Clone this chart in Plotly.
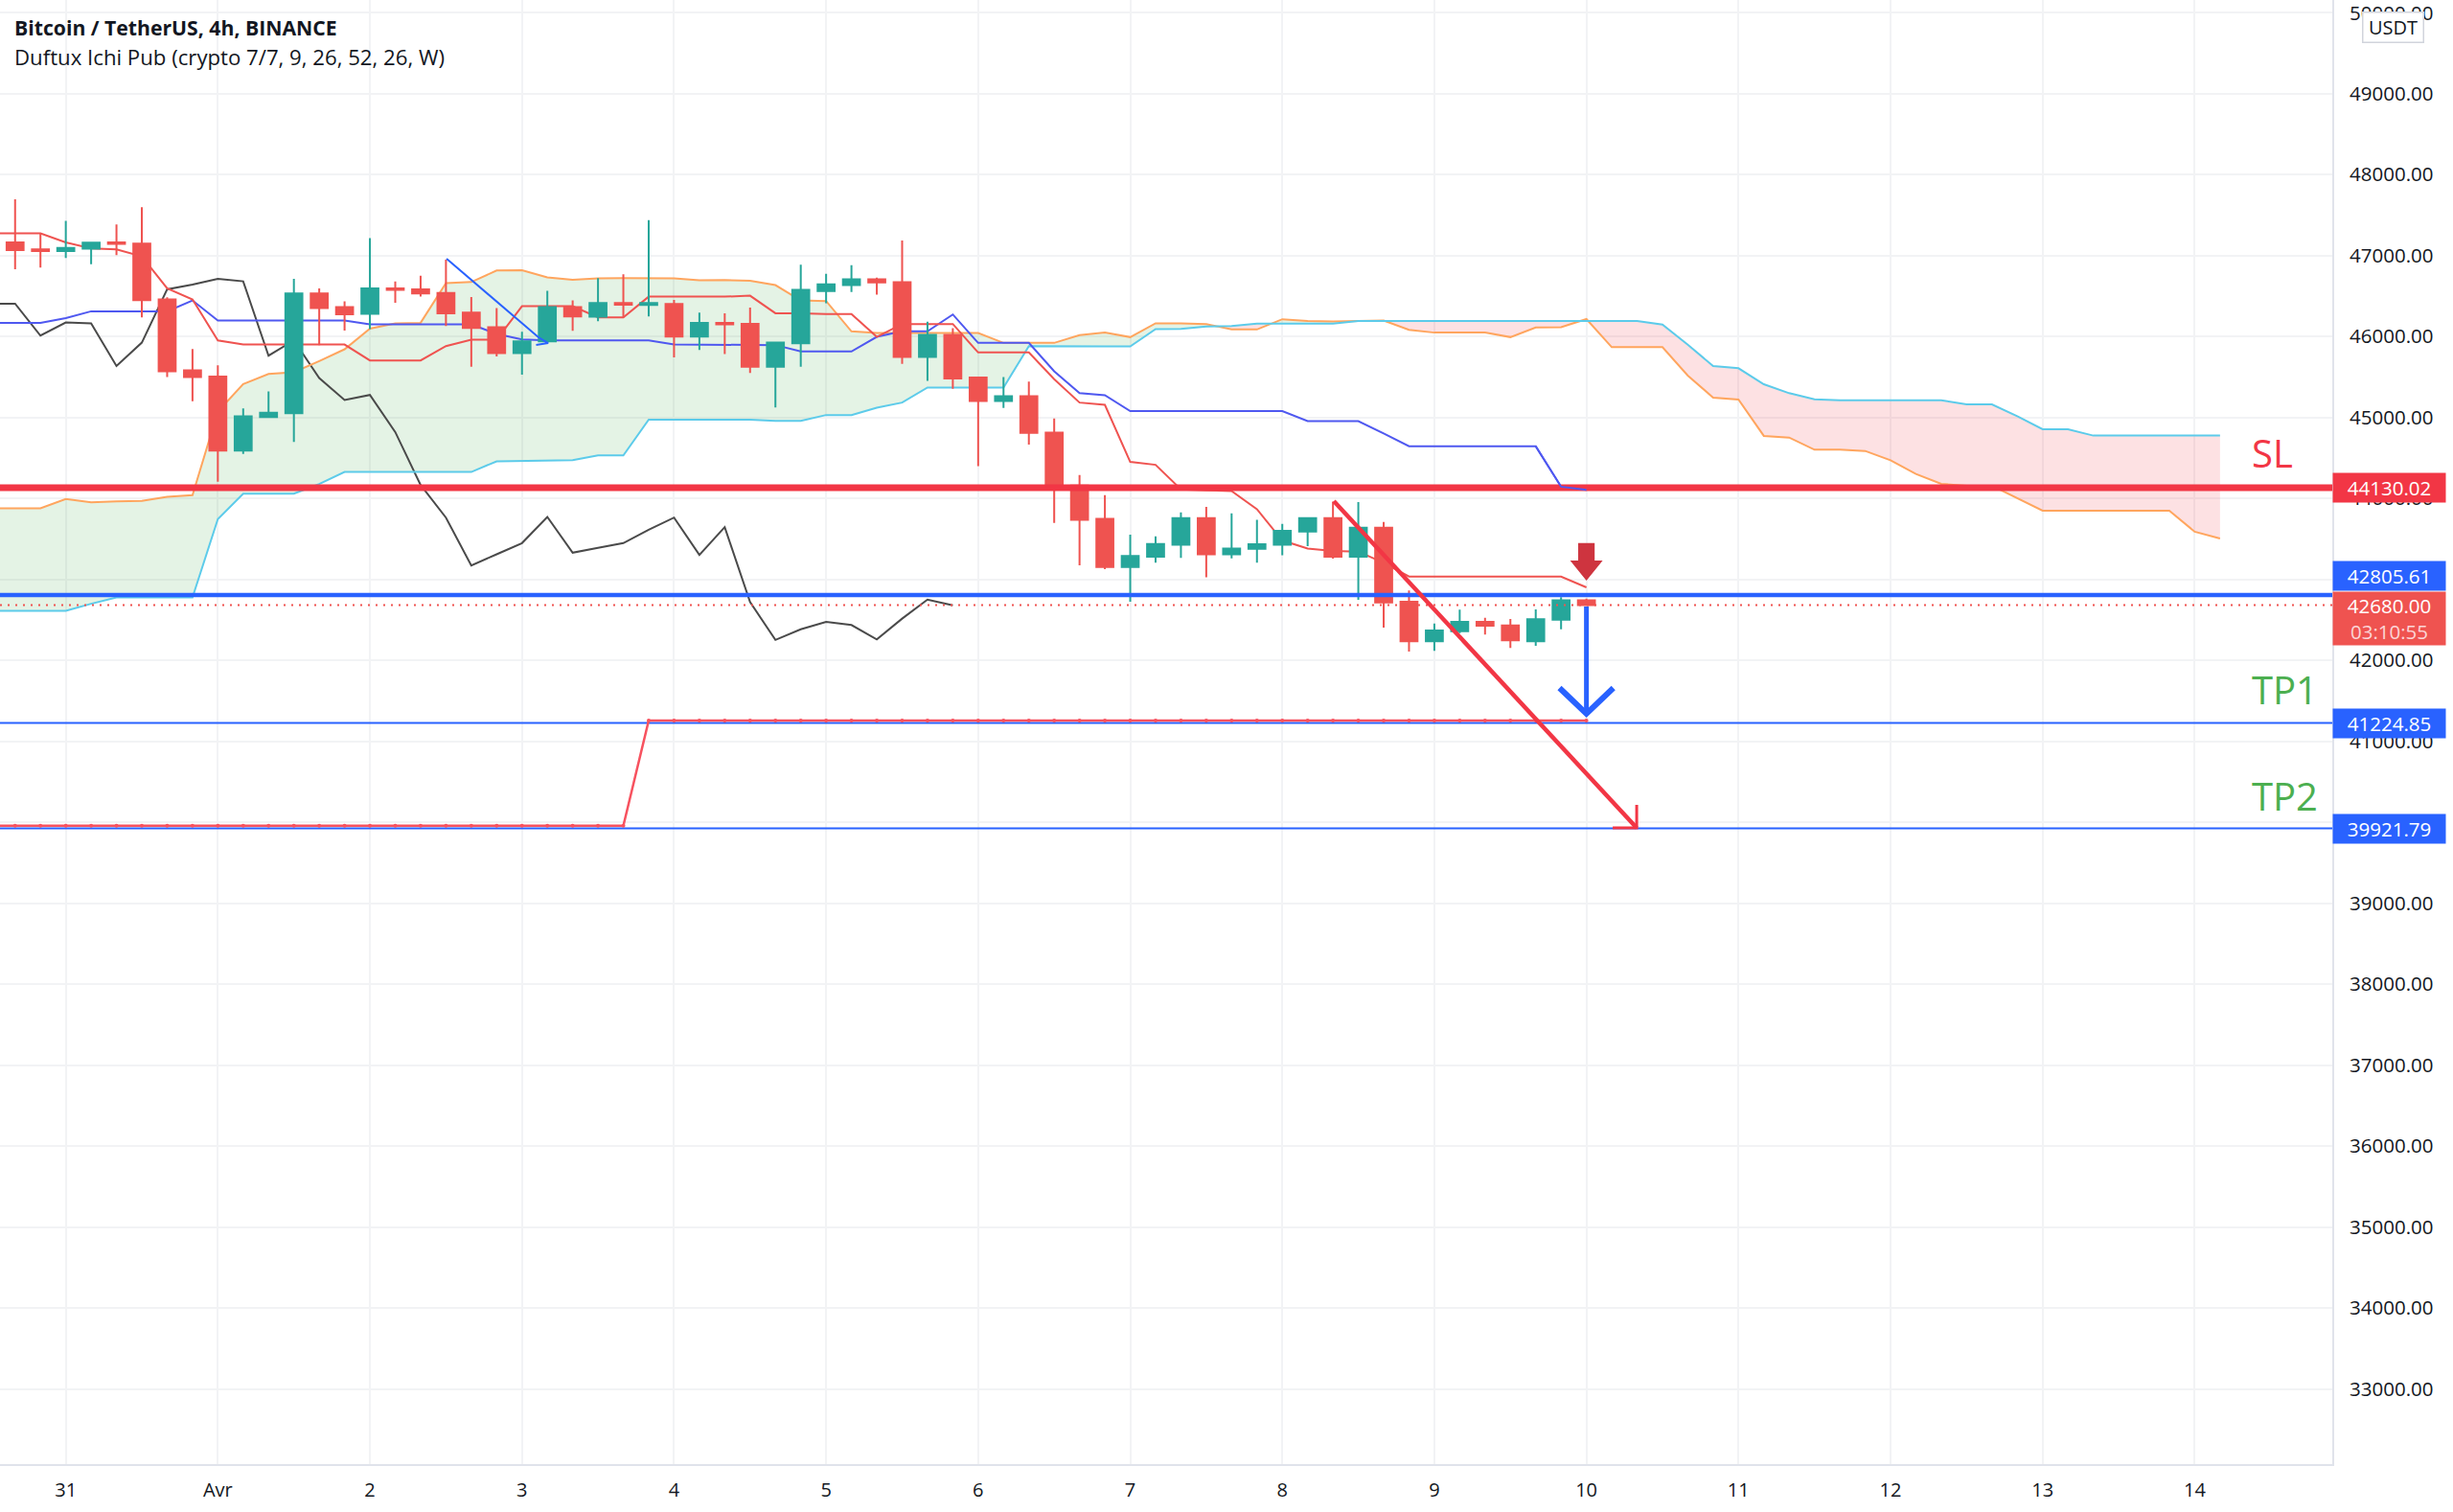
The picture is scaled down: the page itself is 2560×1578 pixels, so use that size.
import pandas as pd
import plotly.graph_objects as go

# candles, 4h bars from 30 Mar 16:00
candle_open = [47160,47074,47054,47082,47160,47145,46455,45579,45504,44590,45004,45051,46530,46360,46277,46593,
               46581,46537,46293,46112,45792,45938,46360,46242,46411,46388,46400,45997,46167,46155,45623,45914,
               46558,46633,46704,46669,45746,46018,45490,45202,45261,44811,44157,43747,43151,43278,43427,43755,
               43309,43376,43427,43589,43755,43278,43636,42722,42233,42359,42473,42430,42233,42501,42741]
candle_high = [47693,47279,47425,47168,47381,47594,46482,45843,45642,45110,45319,46711,46593,46431,47212,46679,
               46750,46948,46486,46348,46056,46561,46443,46719,46766,47436,46451,46293,46285,46356,45930,46884,
               46771,46878,46724,47185,46180,46101,45490,45497,45442,44985,44287,44039,43550,43530,43826,43893,
               43814,43735,43684,43767,43960,43952,43707,42860,42454,42623,42524,42509,42627,42777,42761]
candle_low = [46829,46849,46967,46892,47003,46234,45496,45197,44203,44546,45000,44696,45891,46072,46088,46415,
              46490,46127,45623,45753,45528,45930,46068,46186,46234,46246,45741,45832,45780,45548,45122,45623,
              46408,46546,46515,45659,45450,45352,44397,45115,44662,43696,43171,43124,42722,43203,43262,43025,
              43258,43203,43297,43408,43254,42745,42402,42107,42114,42335,42316,42150,42177,42382,42680]
candle_close = [47066,47054,47093,47156,47141,46447,45567,45496,44590,45012,45055,46530,46348,46273,46593,46573,
                46530,46285,46104,45792,45938,46360,46246,46411,46392,46411,45997,46167,46147,45623,45922,46573,
                46641,46704,46665,45746,46018,45478,45202,45261,44807,44150,43735,43151,43286,43435,43755,43309,
                43380,43431,43597,43755,43278,43636,42714,42233,42367,42473,42426,42245,42505,42741,42680]

# ichimoku lines, first value is the 30 Mar 12:00 bar
tenkan = [47271,47271,47271,47160,47085,47074,46987,46593,46455,45950,45899,45899,45899,45899,45899,45702,45702,45702,
          45879,45958,45958,46372,46372,46372,46234,46234,46490,46490,46490,46490,46502,46285,46285,46274,46274,45994,
          46152,46152,46152,45801,45801,45801,45470,45182,45154,44449,44413,44110,44098,44090,43865,43479,43380,43349,
          43341,43203,43033,43033,43033,43033,43033,43033,43033,42899]
kijun = [46167,46167,46167,46226,46309,46309,46309,46309,46443,46194,46194,46194,46194,46194,46194,46147,46147,46147,
         46147,46147,46029,45962,45950,45950,45950,45950,45950,45899,45899,45899,45899,45892,45813,45813,45813,45994,
         46061,46061,46270,45919,45919,45919,45568,45300,45273,45076,45076,45076,45076,45076,45076,45076,44953,44953,
         44953,44800,44642,44642,44642,44642,44642,44642,44143,44103]
chikou = [46403,46403,46009,46171,46159,45634,45922,46581,46640,46711,46679,45761,45950,45485,45213,45276,44818,44164,
          43761,43170,43308,43446,43769,43328,43387,43446,43612,43761,43300,43643,42717,42251,42381,42473,42434,42256,
          42513,42749,42678]
senkou_a = [43876,43876,43876,43990,43951,43963,43967,44018,44038,45071,45410,45536,45556,45694,45840,46096,46159,46167,
            46656,46671,46813,46817,46727,46699,46715,46719,46719,46715,46691,46695,46687,46633,46444,46436,46061,46042,
            46042,46042,46042,46042,45919,45919,45919,46014,46046,45990,46160,46160,46152,46085,46085,46211,46188,46184,
            46192,46195,46081,46046,46046,46046,45990,46109,46113,46213,45866,45866,45866,45515,45243,45219,44770,44750,
            44600,44600,44584,44470,44300,44178,44155,44155,43997,43847,43847,43847,43847,43847,43847,43587,43504]
senkou_b = [42610,42610,42610,42610,42697,42776,42776,42776,42776,43742,44057,44057,44057,44176,44325,44325,44325,44325,
            44325,44325,44456,44459,44463,44471,44530,44530,44972,44972,44972,44972,44972,44957,44957,45028,45028,45119,
            45182,45367,45367,45367,45367,45880,45876,45876,45876,45876,46089,46093,46121,46128,46156,46156,46156,46156,
            46190,46190,46190,46190,46190,46190,46190,46190,46190,46190,46190,46190,46146,45897,45633,45606,45408,45298,
            45223,45211,45211,45211,45211,45211,45160,45160,45014,44853,44853,44774,44774,44774,44774,44774,44774]
weekly_low = [39956] * 26 + [41255] * 38

# price levels from the drawing tools
sl_price = 44130.02
entry_price = 42805.61
last_price = 42680.00
tp1_price = 41224.85
tp2_price = 39921.79

price_ticks = [33000,34000,35000,36000,37000,38000,39000,40000,41000,42000,43000,44000,45000,46000,47000,48000,49000,50000]
day_ticks = ["2022-03-31","2022-04-01","2022-04-02","2022-04-03","2022-04-04","2022-04-05","2022-04-06","2022-04-07",
             "2022-04-08","2022-04-09","2022-04-10","2022-04-11","2022-04-12","2022-04-13","2022-04-14"]
day_labels = ["31","Avr","2","3","4","5","6","7","8","9","10","11","12","13","14"]

assert len(candle_open) == len(candle_high) == len(candle_low) == len(candle_close) == 63
assert len(tenkan) == len(kijun) == 64
assert len(senkou_a) == len(senkou_b) == 89

RED = "#EF5350"
GREEN = "#26A69A"
BLUE = "#2962FF"
SL_RED = "#F23645"
TEXT = "#131722"
GRID = "#F2F3F5"
AXIS = "#E0E3EB"
FONT = "Open Sans"

bars = pd.date_range("2022-03-30 12:00", periods=len(senkou_a), freq="4h")
candle_time = pd.date_range("2022-03-30 16:00", periods=len(candle_open), freq="4h")
x_range = ["2022-03-30 13:37", "2022-04-14 21:43"]
y_range = [32071, 50154]


def cloud_parts(a, b):
    # split the band at each crossing so the two fills meet exactly
    xs, low, high_g, high_r = [], [], [], []
    for i in range(len(a)):
        lo = min(a[i], b[i])
        xs.append(bars[i])
        low.append(lo)
        high_g.append(a[i] if a[i] >= b[i] else lo)
        high_r.append(b[i] if b[i] > a[i] else lo)
        if i + 1 < len(a) and (a[i] - b[i]) * (a[i + 1] - b[i + 1]) < 0:
            t = (a[i] - b[i]) / ((a[i] - b[i]) - (a[i + 1] - b[i + 1]))
            v = a[i] + t * (a[i + 1] - a[i])
            xs.append(bars[i] + t * (bars[i + 1] - bars[i]))
            low.append(v)
            high_g.append(v)
            high_r.append(v)
    return xs, low, high_g, high_r


fig = go.Figure()


def line(x, y, color, width=2, **kw):
    fig.add_trace(go.Scatter(x=x, y=y, mode="lines", line=dict(color=color, width=width),
                             hoverinfo="skip", showlegend=False, **kw))


cx, clow, cgreen, cred = cloud_parts(senkou_a, senkou_b)
line(cx, clow, "rgba(0,0,0,0)", 0)
line(cx, cgreen, "rgba(0,0,0,0)", 0, fill="tonexty", fillcolor="rgba(76,175,80,0.15)")
line(cx, clow, "rgba(0,0,0,0)", 0)
line(cx, cred, "rgba(0,0,0,0)", 0, fill="tonexty", fillcolor="rgba(242,54,69,0.15)")

line(bars[:len(chikou)], chikou, "#4A4A4A")
line(bars, senkou_a, "#FFA55E")
line(bars, senkou_b, "#5CCBEA")
line(bars[:len(kijun)], kijun, "#4F58F0")
line(bars[:len(tenkan)], tenkan, RED)

# candles sit on their own overlaid axes so they cover the indicator lines
fig.add_trace(go.Candlestick(
    x=candle_time, open=candle_open, high=candle_high, low=candle_low, close=candle_close,
    increasing=dict(line=dict(color=GREEN, width=2), fillcolor=GREEN),
    decreasing=dict(line=dict(color=RED, width=2), fillcolor=RED),
    hoverinfo="skip", showlegend=False, xaxis="x2", yaxis="y2",
))

# horizontal levels
levels = [(sl_price, SL_RED, 7, "solid"), (entry_price, BLUE, 4.5, "solid"), (last_price, RED, 2, "2px,6px"),
          (tp1_price, BLUE, 2, "solid"), (tp2_price, BLUE, 2, "solid")]
for price, color, width, dash in levels:
    fig.add_trace(go.Scatter(x=x_range, y=[price, price], mode="lines", line=dict(color=color, width=width, dash=dash),
                             hoverinfo="skip", showlegend=False, xaxis="x3", yaxis="y3"))

# end of the kijun shows on top of the SL level
line(bars[61:64], kijun[61:64], "#4F58F0", 2, xaxis="x3", yaxis="y3")

# drawings
fig.add_trace(go.Scatter(x=bars[:len(weekly_low)], y=weekly_low, mode="lines+markers",
                         line=dict(color="#F7525F", width=2.5), marker=dict(color="#F7525F", size=4),
                         hoverinfo="skip", showlegend=False, xaxis="x3", yaxis="y3"))
line(["2022-04-02 12:06", "2022-04-03 02:36", "2022-04-03 04:08", "2022-04-03 02:14"],
     [46959, 45988, 45917, 45894], BLUE, 2, xaxis="x3", yaxis="y3")
line(["2022-04-08 08:08", "2022-04-10 07:56"], [43965, 39929], SL_RED, 4.5, xaxis="x3", yaxis="y3")
line(["2022-04-10 04:09", "2022-04-10 07:56", "2022-04-10 07:56"], [39929, 39929, 40213], SL_RED, 3,
     xaxis="x3", yaxis="y3")
line(["2022-04-10 00:00", "2022-04-10 00:00"], [42663, 41338], BLUE, 5, xaxis="x3", yaxis="y3")
line(["2022-04-09 19:45", "2022-04-10 00:00", "2022-04-10 04:15"], [41657, 41338, 41657], BLUE, 6,
     xaxis="x3", yaxis="y3")
fig.add_trace(go.Scatter(
    x=["2022-04-09 22:42", "2022-04-10 01:18", "2022-04-10 01:18", "2022-04-10 02:34",
       "2022-04-10 00:00", "2022-04-09 21:26", "2022-04-09 22:42", "2022-04-09 22:42"],
    y=[43448, 43448, 43231, 43231, 42982, 43231, 43231, 43448],
    mode="lines", fill="toself", fillcolor="#CE343F", line=dict(color="#CE343F", width=0),
    hoverinfo="skip", showlegend=False, xaxis="x3", yaxis="y3"))

annotations = []
# header text
annotations.append(dict(xref="paper", yref="paper", x=0, y=1, xanchor="left", yanchor="middle", xshift=13, yshift=-28,
                        text="<b>Bitcoin / TetherUS, 4h, BINANCE</b>", showarrow=False,
                        font=dict(family=FONT, size=21.2, color=TEXT)))
annotations.append(dict(xref="paper", yref="paper", x=0, y=1, xanchor="left", yanchor="middle", xshift=13, yshift=-59,
                        text="Duftux Ichi Pub (crypto 7/7, 9, 26, 52, 26, W)", showarrow=False,
                        font=dict(family=FONT, size=22.2, color=TEXT)))
# setup labels
for label, price, color in [("SL", 44568, SL_RED), ("TP1", 41645, "#4CAF50"), ("TP2", 40320, "#4CAF50")]:
    annotations.append(dict(xref="x", yref="y", x="2022-04-14 08:40", y=price, xanchor="left", yanchor="middle",
                            text=label, showarrow=False, font=dict(family=FONT, size=40, color=color)))
# plotly drops the top tick this close to the edge, USDT badge covers most of it anyway
annotations.append(dict(xref="paper", yref="y", x=1, y=50000, xanchor="left", yanchor="middle", xshift=16,
                        text="50000.00", showarrow=False, font=dict(family=FONT, size=20.5, color=TEXT)))
# price scale labels
for price, color, shift in [(sl_price, SL_RED, 0), (entry_price, BLUE, 20), (tp1_price, BLUE, 0), (tp2_price, BLUE, 0)]:
    annotations.append(dict(xref="paper", yref="y", x=1, y=price, xanchor="left", yanchor="middle", yshift=shift,
                            text="%.2f" % price, showarrow=False, width=117, height=30, bgcolor=color, borderpad=0,
                            align="center", font=dict(family=FONT, size=20.5, color="white")))
annotations.append(dict(xref="paper", yref="y", x=1, y=last_price, xanchor="left", yanchor="top", yshift=15,
                        text='%.2f<br><span style="color:#FBD5D7">03:10:55</span>' % last_price, showarrow=False,
                        width=117, height=55, bgcolor=RED, borderpad=0, align="center",
                        font=dict(family=FONT, size=20.5, color="white")))
annotations.append(dict(xref="paper", yref="paper", x=1, y=1, xanchor="left", yanchor="middle", xshift=31, yshift=-28,
                        text="USDT", showarrow=False, width=62, height=30, bgcolor="white", bordercolor="#D1D4DC",
                        borderwidth=1.5, borderpad=0, font=dict(family=FONT, size=20, color=TEXT)))

hidden = dict(range=x_range, type="date", overlaying="x", visible=False, rangeslider=dict(visible=False))
hidden_y = dict(range=y_range, overlaying="y", side="right", visible=False)

fig.update_layout(
    width=2560, height=1578,
    margin=dict(l=0, r=126, t=0, b=50),
    paper_bgcolor="white", plot_bgcolor="white",
    showlegend=False,
    boxgap=0.33, boxgroupgap=0,
    annotations=annotations,
    xaxis=dict(range=x_range, type="date", tickmode="array", tickvals=day_ticks, ticktext=day_labels,
               showgrid=True, gridcolor=GRID, gridwidth=2, zeroline=False, showline=True, linecolor=AXIS, linewidth=2,
               ticks="", ticklabelstandoff=8, tickfont=dict(family=FONT, size=20, color=TEXT),
               rangeslider=dict(visible=False)),
    yaxis=dict(range=y_range, side="right", tickmode="array", tickvals=price_ticks,
               ticktext=["%.2f" % p for p in price_ticks],
               showgrid=True, gridcolor=GRID, gridwidth=2, zeroline=False, showline=True, linecolor=AXIS, linewidth=2,
               ticks="", ticklabelstandoff=12, tickfont=dict(family=FONT, size=20.5, color=TEXT)),
    xaxis2=hidden, yaxis2=hidden_y,
    xaxis3=hidden, yaxis3=hidden_y,
)

fig.write_html("out.html", config=dict(displayModeBar=False),
               post_script="document.body.style.margin='0';document.body.style.overflow='hidden';")
